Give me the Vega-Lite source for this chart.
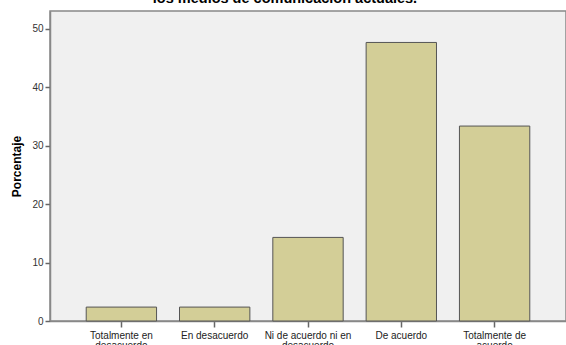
{
  "$schema": "https://vega.github.io/schema/vega-lite/v6.json",
  "width": 516,
  "height": 310,
  "autosize": "none",
  "padding": {"left": 50, "top": 11, "right": 0, "bottom": 24},
  "background": "white",
  "title": {
    "text": "los medios de comunicación actuales.",
    "font": "Liberation Sans",
    "fontSize": 14.5,
    "fontWeight": "bold",
    "color": "#000000",
    "anchor": "middle",
    "dx": -23,
    "dy": 12,
    "offset": 3,
    "baseline": "bottom"
  },
  "config": {
    "view": {"fill": "#f0f0f0", "stroke": "#888888", "strokeWidth": 1.5},
    "axis": {"labelFont": "Liberation Sans", "titleFont": "Liberation Sans", "grid": false}
  },
  "data": {
    "values": [
      {"categoria": "Totalmente en desacuerdo", "porcentaje": 2.38, "orden": 1},
      {"categoria": "En desacuerdo", "porcentaje": 2.38, "orden": 2},
      {"categoria": "Ni de acuerdo ni en desacuerdo", "porcentaje": 14.29, "orden": 3},
      {"categoria": "De acuerdo", "porcentaje": 47.62, "orden": 4},
      {"categoria": "Totalmente de acuerdo", "porcentaje": 33.33, "orden": 5}
    ]
  },
  "mark": {"type": "bar", "fill": "#d3ce97", "stroke": "#555555", "strokeWidth": 1},
  "encoding": {
    "x": {
      "field": "categoria",
      "type": "nominal",
      "sort": {"field": "orden"},
      "scale": {"paddingInner": 0.246, "paddingOuter": 0.388},
      "axis": {
        "title": null,
        "labelAngle": 0,
        "labelFontSize": 10,
        "labelColor": "#222222",
        "labelLineHeight": 10,
        "labelPadding": 3,
        "labelExpr": "datum.label == 'Totalmente en desacuerdo' ? ['Totalmente en', 'desacuerdo'] : datum.label == 'Ni de acuerdo ni en desacuerdo' ? ['Ni de acuerdo ni en', 'desacuerdo'] : datum.label == 'Totalmente de acuerdo' ? ['Totalmente de', 'acuerdo'] : datum.label",
        "tickSize": 6,
        "tickColor": "#666666",
        "tickWidth": 1.5,
        "domainColor": "#888888",
        "domainWidth": 1.5
      }
    },
    "y": {
      "field": "porcentaje",
      "type": "quantitative",
      "scale": {"domain": [0, 53], "nice": false},
      "axis": {
        "title": "Porcentaje",
        "titleFontSize": 12,
        "titleFontWeight": "bold",
        "titleColor": "#000000",
        "titlePadding": 8,
        "values": [0, 10, 20, 30, 40, 50],
        "labelFontSize": 10,
        "labelColor": "#333333",
        "tickSize": 5,
        "tickColor": "#666666",
        "tickWidth": 1.5,
        "domainColor": "#888888",
        "domainWidth": 1.5
      }
    }
  }
}
